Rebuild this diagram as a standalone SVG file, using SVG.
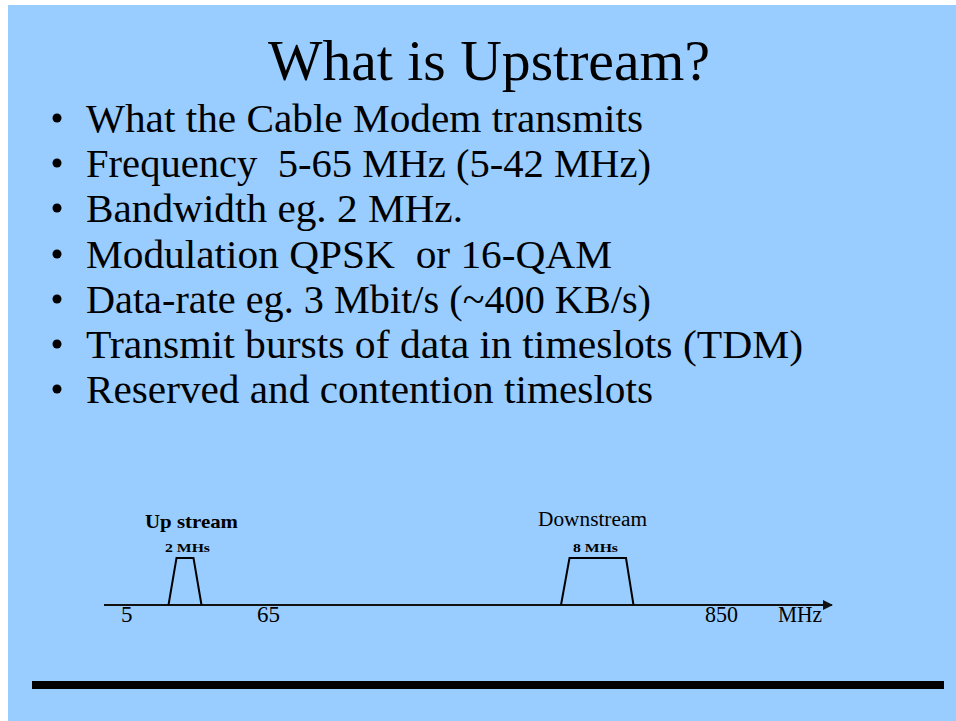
<svg xmlns="http://www.w3.org/2000/svg" width="956" height="721" viewBox="0 0 956 721">
<style>
  text { font-family: "Liberation Serif", "Times New Roman", serif; fill: #000; }
  .title { font-size: 58px; }
  .bullet-text { font-size: 41px; white-space: pre; }
  .dot { fill: #000; }
  .band { fill: none; stroke: #000; stroke-width: 2; stroke-linejoin: miter; }
  .axis { stroke: #111; stroke-width: 2; fill: none; }
  .lbl { font-size: 23px; }
  .bw { font-size: 13px; font-weight: bold; }
</style>
<defs>
  <marker id="arrow" viewBox="0 0 10 10" refX="9" refY="5" markerWidth="5" markerHeight="5" orient="auto" markerUnits="strokeWidth">
    <path d="M0,0 L10,5 L0,10 z" fill="#111"/>
  </marker>
</defs>
<rect x="0" y="0" width="956" height="721" fill="#ffffff"/>
<rect x="8" y="5" width="948" height="716" fill="#99CCFF"/>

<g id="title">
  <text class="title" x="489" y="80" text-anchor="middle" textLength="442" lengthAdjust="spacingAndGlyphs">What is Upstream?</text>
</g>

<g id="bullets">
  <g id="b1"><circle class="dot" cx="57" cy="118" r="4.5"/><text class="bullet-text" x="86" y="132" textLength="557" lengthAdjust="spacingAndGlyphs">What the Cable Modem transmits</text></g>
  <g id="b2"><circle class="dot" cx="57" cy="163" r="4.5"/><text class="bullet-text" x="86" y="177" textLength="565" lengthAdjust="spacingAndGlyphs">Frequency  5-65 MHz (5-42 MHz)</text></g>
  <g id="b3"><circle class="dot" cx="57" cy="208" r="4.5"/><text class="bullet-text" x="86" y="222" textLength="377" lengthAdjust="spacingAndGlyphs">Bandwidth eg. 2 MHz.</text></g>
  <g id="b4"><circle class="dot" cx="57" cy="254" r="4.5"/><text class="bullet-text" x="86" y="268" textLength="526" lengthAdjust="spacingAndGlyphs">Modulation QPSK  or 16-QAM</text></g>
  <g id="b5"><circle class="dot" cx="57" cy="299" r="4.5"/><text class="bullet-text" x="86" y="313" textLength="565" lengthAdjust="spacingAndGlyphs">Data-rate eg. 3 Mbit/s (~400 KB/s)</text></g>
  <g id="b6"><circle class="dot" cx="57" cy="344" r="4.5"/><text class="bullet-text" x="86" y="358" textLength="717" lengthAdjust="spacingAndGlyphs">Transmit bursts of data in timeslots (TDM)</text></g>
  <g id="b7"><circle class="dot" cx="57" cy="389" r="4.5"/><text class="bullet-text" x="86" y="403" textLength="567" lengthAdjust="spacingAndGlyphs">Reserved and contention timeslots</text></g>
</g>

<g id="connectors">
  <line class="axis" x1="104" y1="605" x2="832" y2="605" marker-end="url(#arrow)"/>
</g>

<g id="upstream">
  <polyline class="band" points="168.5,605 176.5,558 193.5,558 201.5,605"/>
  <text x="145" y="528" font-size="19" font-weight="bold" textLength="93" lengthAdjust="spacingAndGlyphs">Up stream</text>
  <text class="bw" x="165" y="552" textLength="45" lengthAdjust="spacingAndGlyphs">2 MHs</text>
</g>

<g id="downstream">
  <polyline class="band" points="561,605 569.5,558 626,558 633.5,605"/>
  <text x="538" y="526" font-size="20" textLength="109" lengthAdjust="spacingAndGlyphs">Downstream</text>
  <text class="bw" x="573" y="552" textLength="45" lengthAdjust="spacingAndGlyphs">8 MHs</text>
</g>

<g id="axis-labels">
  <text class="lbl" x="121" y="622">5</text>
  <text class="lbl" x="257" y="622">65</text>
  <text class="lbl" x="705" y="622" textLength="33" lengthAdjust="spacingAndGlyphs">850</text>
  <text class="lbl" x="778" y="622" textLength="44" lengthAdjust="spacingAndGlyphs">MHz</text>
</g>

<g id="footer-bar">
  <rect x="32" y="681" width="912" height="8" fill="#000"/>
</g>
</svg>
